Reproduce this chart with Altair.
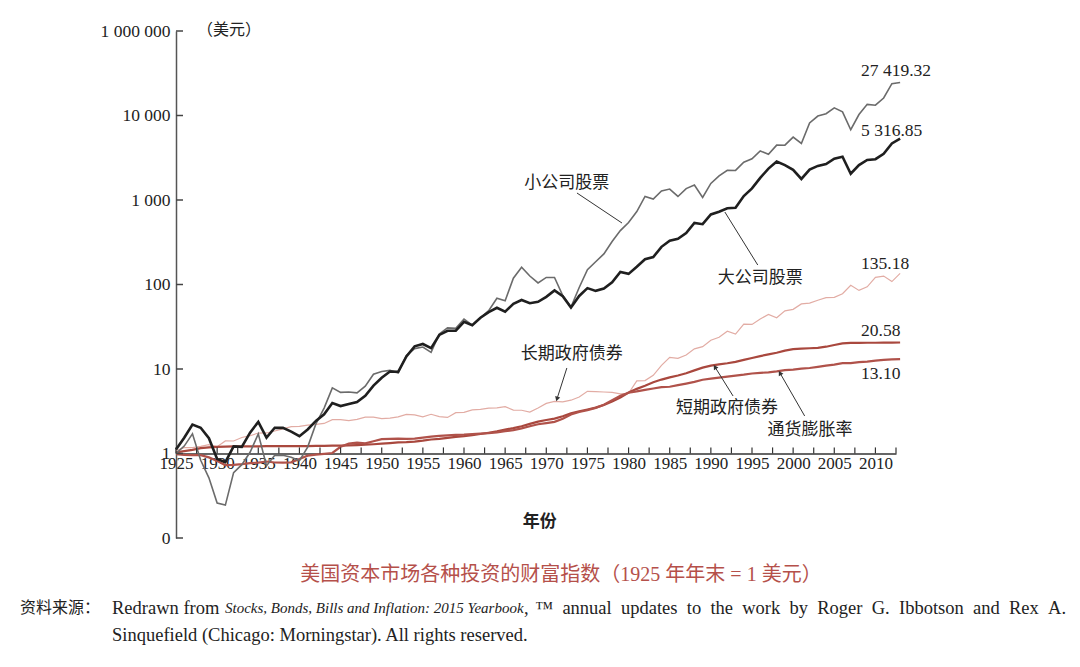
import altair as alt
import pandas as pd

# ---------------- data (index values, 1925 year-end = 1 USD) ----------------
START_YEAR = 1925

SMALL = [1.003, 1.224, 1.710, 0.832, 0.515, 0.259, 0.245, 0.594, 0.738, 1.035,
         1.705, 0.716, 0.951, 0.954, 0.905, 0.823, 1.190, 2.242, 3.446, 5.983,
         5.287, 5.335, 5.223, 6.254, 8.677, 9.355, 9.638, 9.013, 14.473, 17.431,
         18.205, 15.748, 25.971, 30.696, 30.294, 38.976, 32.965, 40.248, 49.038, 68.853,
         64.229, 118.670, 160.0, 126.066, 104.219, 121.236, 121.123, 73.985, 54.068, 92.245,
         149.933, 185.946, 230.456, 322.620, 434.131, 542.160, 729.538, 1103.234, 1028.440, 1278.113,
         1346.839, 1101.138, 1365.241, 1501.013, 1070.094, 1569.032, 1925.701, 2250.766, 2238.063, 2804.917,
         3077.004, 3798.186, 3479.963, 4459.233, 4453.478, 5554.047, 4664.749, 8163.419, 9853.838, 10488.318,
         12320.062, 11034.264, 6784.316, 10257.215, 13547.283, 13248.398, 16100.181, 23800.0, 24600.0]

LARGE = [1.116, 1.535, 2.204, 2.018, 1.516, 0.859, 0.789, 1.214, 1.197, 1.767,
         2.367, 1.538, 2.016, 2.008, 1.812, 1.602, 1.927, 2.427, 2.906, 3.965,
         3.645, 3.853, 4.065, 4.829, 6.360, 7.888, 9.336, 9.244, 14.108, 18.561,
         19.778, 17.646, 25.298, 28.322, 28.455, 36.106, 32.955, 40.469, 47.139, 53.008,
         47.674, 59.104, 65.642, 60.059, 62.465, 71.406, 84.956, 72.500, 53.311, 73.144,
         90.584, 84.077, 89.592, 106.113, 140.514, 133.616, 162.223, 198.745, 211.199, 279.117,
         330.671, 347.967, 406.458, 534.455, 517.499, 675.592, 727.412, 800.078, 810.538, 1113.918,
         1370.946, 1828.326, 2350.892, 2845.629, 2586.524, 2279.127, 1775.341, 2284.785, 2533.250, 2657.664,
         3077.410, 3246.540, 2045.401, 2586.717, 2976.324, 3039.230, 3525.593, 4667.559, 5316.85]

LTGOV = [1.078, 1.174, 1.175, 1.215, 1.272, 1.204, 1.407, 1.405, 1.547, 1.624,
         1.746, 1.750, 1.847, 1.957, 2.076, 2.095, 2.162, 2.207, 2.269, 2.514,
         2.511, 2.445, 2.529, 2.692, 2.693, 2.587, 2.617, 2.713, 2.907, 2.870,
         2.710, 2.912, 2.734, 2.673, 3.041, 3.070, 3.282, 3.322, 3.438, 3.463,
         3.589, 3.259, 3.251, 3.086, 3.460, 3.917, 4.140, 4.094, 4.272, 4.665,
         5.447, 5.410, 5.346, 5.280, 5.071, 5.166, 7.251, 7.298, 8.427, 11.037,
         13.745, 13.372, 14.665, 17.322, 18.392, 21.942, 23.709, 28.034, 25.856, 34.044,
         33.727, 39.074, 44.178, 40.338, 48.702, 50.775, 58.962, 60.335, 65.184, 69.855,
         70.591, 77.632, 97.900, 85.159, 93.910, 121.428, 125.656, 108.283, 135.18]

TBILL = [1.033, 1.065, 1.103, 1.155, 1.183, 1.196, 1.207, 1.211, 1.213, 1.215,
         1.217, 1.221, 1.221, 1.221, 1.221, 1.222, 1.225, 1.229, 1.233, 1.237,
         1.242, 1.248, 1.258, 1.272, 1.287, 1.306, 1.328, 1.352, 1.364, 1.385,
         1.419, 1.464, 1.486, 1.530, 1.571, 1.604, 1.648, 1.700, 1.760, 1.829,
         1.916, 1.997, 2.101, 2.239, 2.385, 2.490, 2.585, 2.764, 2.986, 3.159,
         3.319, 3.489, 3.740, 4.128, 4.592, 5.267, 5.822, 6.335, 6.959, 7.496,
         7.957, 8.376, 8.905, 9.640, 10.368, 10.946, 11.339, 11.687, 12.141, 12.838,
         13.508, 14.201, 14.901, 15.587, 16.498, 17.149, 17.423, 17.598, 17.820, 18.355,
         19.227, 20.098, 20.402, 20.424, 20.448, 20.460, 20.478, 20.486, 20.58]

INFL = [0.985, 0.965, 0.955, 0.957, 0.899, 0.814, 0.730, 0.734, 0.749, 0.771,
        0.780, 0.804, 0.782, 0.778, 0.786, 0.862, 0.942, 0.971, 0.992, 1.014,
        1.200, 1.308, 1.344, 1.319, 1.396, 1.477, 1.490, 1.499, 1.492, 1.498,
        1.540, 1.587, 1.615, 1.639, 1.663, 1.674, 1.695, 1.723, 1.743, 1.777,
        1.836, 1.892, 1.981, 2.102, 2.218, 2.292, 2.370, 2.577, 2.896, 3.095,
        3.246, 3.465, 3.778, 4.281, 4.812, 5.242, 5.445, 5.652, 5.875, 6.097,
        6.166, 6.438, 6.722, 7.034, 7.464, 7.693, 7.916, 8.133, 8.351, 8.563,
        8.847, 8.998, 9.143, 9.389, 9.707, 9.857, 10.091, 10.281, 10.616, 10.977,
        11.257, 11.720, 11.729, 12.049, 12.228, 12.592, 12.811, 13.004, 13.10]

SERIES = ["长期政府债券", "短期政府债券", "通货膨胀率", "小公司股票", "大公司股票"]
SERIES_VALUES = [LTGOV, TBILL, INFL, SMALL, LARGE]

X_LABEL_YEARS = list(range(1925, 2011, 5))
X_TICK_YEARS = [1925 + 2.5 * i for i in range(36)]
Y_TICKS = [0.1, 1, 10, 100, 1000, 10000, 100000]
Y_LABELS = ["0", "1", "10", "100", "1 000", "10 000", "1 000 000"]

END_LABELS = ["27 419.32", "5 316.85", "135.18", "20.58", "13.10"]
END_LABEL_YEAR = [2008.25, 2008.25, 2008.25, 2008.25, 2008.25]
END_LABEL_VALUE = [33600, 6550, 175, 28.2, 8.7]

ANNOT_TEXT = ["小公司股票", "大公司股票", "长期政府债券", "短期政府债券", "通货膨胀率"]
ANNOT_YEAR = [1972.5, 1996.0, 1973.1, 1991.96, 2002.05]
ANNOT_VALUE = [1589, 119, 15.05, 3.45, 1.897]

LEADER_YEAR = [1973.73, 1991.7, 1972.5, 1992.7, 2001.4]
LEADER_VALUE = [1210, 721, 10.28, 4.79, 2.78]
LEADER_YEAR2 = [1979.2, 1995.7, 1971.3, 1990.5, 1998.4]
LEADER_VALUE2 = [534, 170, 4.42, 10.56, 8.97]
ARROW_IDX = [2, 3, 4]
ARROW_ANGLE = [198, 328, 330]

UNIT_TEXT = "（美元）"
XTITLE_TEXT = "年份"
CAPTION = "美国资本市场各种投资的财富指数（1925 年年末 = 1 美元）"
SRC_LEAD = "资料来源："
SRC_1A = "Redrawn from"
SRC_1B = "Stocks, Bonds, Bills and Inflation: 2015 Yearbook"
SRC_1COMMA = ","
SRC_1C = "™ annual updates to the work by Roger G. Ibbotson and Rex A."
SRC_2 = "Sinquefield (Chicago: Morningstar). All rights reserved."

# ---------------- styling ----------------
SERIF = "Liberation Serif"
MIXED = "Liberation Serif, Noto Sans CJK SC"
CJK = "Noto Sans CJK SC"
COLORS = ["#e2aca4", "#a9483e", "#b0524a", "#6b6b6b", "#1f1f1f"]
WIDTHS = [1.2, 2.2, 2.2, 1.6, 2.6]

W, H = 720, 507

xscale = alt.Scale(domain=[1925, 2012.5], nice=False, zero=False)
yscale = alt.Scale(type="log", domain=[0.1, 100000], nice=False)

# label expression for the y axis built from the tick lists
expr = "'" + Y_LABELS[-1] + "'"
for i in range(len(Y_TICKS) - 2, -1, -1):
    mid = (Y_TICKS[i] * Y_TICKS[i + 1]) ** 0.5
    expr = f"datum.value < {mid} ? '{Y_LABELS[i]}' : ({expr})"

xaxis = alt.Axis(values=X_LABEL_YEARS, format="d", title=None, grid=False, ticks=False, tickSize=0,
                 offset=-84.5, labelFont=SERIF, labelFontSize=17, labelColor="#222",
                 labelPadding=2, labelFlush=False, labelOverlap=False,
                 domainColor="#333", domainWidth=1.5)
yaxis = alt.Axis(values=Y_TICKS, labelExpr=expr, title=None, grid=False, ticks=False, tickSize=0,
                 labelFont=SERIF, labelFontSize=17.5, labelColor="#222", labelPadding=6,
                 labelFlush=False, labelOverlap=False, domainColor="#555", domainWidth=1.5)

X = alt.X("year:Q", scale=xscale, axis=xaxis)
Y = alt.Y("value:Q", scale=yscale, axis=yaxis)

layers = []
for name, vals, col, w in zip(SERIES, SERIES_VALUES, COLORS, WIDTHS):
    d = pd.DataFrame({"year": [START_YEAR + i for i in range(len(vals))], "value": vals})
    layers.append(alt.Chart(d).mark_line(color=col, strokeWidth=w, clip=False).encode(x=X, y=Y))

# x ticks (pointing up from the axis at value 1)
xt = pd.DataFrame({"year": X_TICK_YEARS, "value": [1.0] * len(X_TICK_YEARS),
                   "value2": [1.18] * len(X_TICK_YEARS)})
layers.append(alt.Chart(xt).mark_rule(color="#333", strokeWidth=1.2).encode(
    x=X, y=Y, y2="value2:Q"))

# y ticks (pointing right)
yt = pd.DataFrame({"year": [1925] * len(Y_TICKS), "year2": [1925.85] * len(Y_TICKS), "value": Y_TICKS})
layers.append(alt.Chart(yt).mark_rule(color="#444", strokeWidth=1.5).encode(
    x=X, x2="year2:Q", y=Y))

# leader lines
ld = pd.DataFrame({"year": LEADER_YEAR, "value": LEADER_VALUE,
                   "year2": LEADER_YEAR2, "value2": LEADER_VALUE2})
layers.append(alt.Chart(ld).mark_rule(color="#333", strokeWidth=1).encode(
    x=X, y=Y, x2="year2:Q", y2="value2:Q"))

# arrow heads
ah = pd.DataFrame({"year": [LEADER_YEAR2[i] for i in ARROW_IDX],
                   "value": [LEADER_VALUE2[i] for i in ARROW_IDX],
                   "angle": ARROW_ANGLE})
layers.append(alt.Chart(ah).mark_point(shape="triangle-up", filled=True, color="#333",
                                       size=28, opacity=1).encode(
    x=X, y=Y, angle=alt.Angle("angle:Q", scale=None)))

# series name labels
an = pd.DataFrame({"year": ANNOT_YEAR, "value": ANNOT_VALUE, "t": ANNOT_TEXT})
layers.append(alt.Chart(an).mark_text(font=CJK, fontSize=17, color="#222", align="center",
                                      baseline="middle").encode(x=X, y=Y, text="t:N"))

# end value labels
el = pd.DataFrame({"year": END_LABEL_YEAR, "value": END_LABEL_VALUE, "t": END_LABELS})
layers.append(alt.Chart(el).mark_text(font=SERIF, fontSize=17.5, color="#222", align="left",
                                      baseline="middle").encode(x=X, y=Y, text="t:N"))

# unit and x title
ut = pd.DataFrame({"year": [1927.55], "value": [100000], "t": [UNIT_TEXT]})
layers.append(alt.Chart(ut).mark_text(font=CJK, fontSize=16, color="#222", align="left",
                                      baseline="middle", dy=-1).encode(x=X, y=Y, text="t:N"))
xtt = pd.DataFrame({"year": [1969.2], "value": [0.1546], "t": [XTITLE_TEXT]})
layers.append(alt.Chart(xtt).mark_text(font=CJK, fontSize=17, fontWeight="bold", color="#222",
                                       align="center", baseline="middle").encode(x=X, y=Y, text="t:N"))


def free_text(text, x, y, font, size, color="#222", align="left", style="normal"):
    return alt.Chart(pd.DataFrame({"t": [text]})).mark_text(
        align=align, baseline="middle", font=font, fontSize=size, color=color,
        fontStyle=style).encode(text="t:N", x=alt.value(x), y=alt.value(y))


# approximate Times-Roman advance widths (em) for justifying the first source line
EM = {" ": .25, ",": .25, ".": .25, "™": .98, "a": .444, "b": .5, "d": .5, "e": .444, "g": .5,
      "h": .5, "k": .5, "l": .278, "n": .5, "o": .5, "p": .5, "r": .333, "s": .389, "t": .278,
      "u": .5, "w": .722, "x": .5, "y": .5, "A": .722, "G": .722, "I": .333, "R": .667}


def text_width(s, size):
    return sum(EM.get(c, .5) for c in s) * size


SRC_FS = 18.5
layers.append(free_text(CAPTION, 385, 544, MIXED, 20.0, color="#b5504a", align="center"))
layers.append(free_text(SRC_LEAD, -156, 577, CJK, 16))
layers.append(free_text(SRC_1A, -64, 577, SERIF, SRC_FS))
layers.append(free_text(SRC_1B, 49, 577, SERIF, 15.0, style="italic"))
layers.append(free_text(SRC_1COMMA, 348, 577, SERIF, SRC_FS))

# justified remainder of line 1: from x=359 to x=890 (relative to plot left)
words = SRC_1C.split(" ")
x0, x1 = 359, 890
total = sum(text_width(w_, SRC_FS) for w_ in words)
gap = (x1 - x0 - total) / (len(words) - 1)
cur = x0
for w_ in words:
    layers.append(free_text(w_, cur, 577, SERIF, SRC_FS))
    cur += text_width(w_, SRC_FS) + gap

layers.append(free_text(SRC_2, -64, 604, SERIF, SRC_FS))

chart = alt.layer(*layers).properties(
    width=W, height=H,
    autosize=alt.AutoSizeParams(type="none"),
    padding={"left": 168, "top": 23, "right": 170, "bottom": 112},
    background="white",
).configure_view(stroke=None)

chart.save("out.html", embed_options={"renderer": "svg", "actions": False})
